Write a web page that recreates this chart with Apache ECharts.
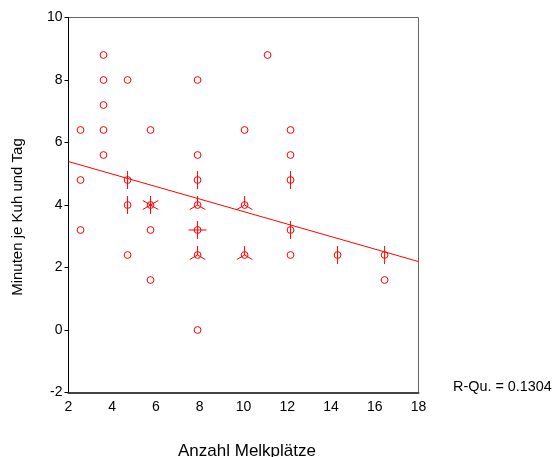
<!DOCTYPE html>
<html>
<head>
<meta charset="utf-8">
<script src="https://cdn.jsdelivr.net/npm/echarts@6/dist/echarts.min.js"></script>
<style>
html,body{margin:0;padding:0;background:#fff;}
#c{width:556px;height:457px;}
</style>
</head>
<body>
<div id="c"></div>
<script>
// Data (sunflower plot: count = cases at that point)
const xVals  = [2.55,2.55,2.55, 3.6,3.6,3.6,3.6,3.6, 4.7,4.7,4.7,4.7, 5.75,5.75,5.75,5.75, 7.9,7.9,7.9,7.9,7.9,7.9,7.9, 10.05,10.05,10.05, 11.1, 12.15,12.15,12.15,12.15,12.15, 14.3, 16.45,16.45];
const yVals  = [6.4,4.8,3.2, 8.8,8.0,7.2,6.4,5.6, 8.0,4.8,4.0,2.4, 6.4,4.0,3.2,1.6, 8.0,5.6,4.8,4.0,3.2,2.4,0.0, 6.4,4.0,2.4, 8.8, 6.4,5.6,4.8,3.2,2.4, 2.4, 2.4,1.6];
const counts = [1,1,1, 1,1,1,1,1, 1,2,2,1, 1,6,1,1, 1,1,2,3,4,3,1, 1,3,3, 1, 1,1,2,2,1, 2, 2,1];
const fitX = [2, 18];
const fitY = [5.39, 2.19];
const xTicks = {min: 2, max: 18, interval: 2};
const yTicks = {min: -2, max: 10, interval: 2};
const rsqText = 'R-Qu. = 0.1304';
const xTitle = 'Anzahl Melkplätze';
const yTitle = 'Minuten je Kuh und Tag';

const RED = '#ff0000';
const pts = xVals.map((x, i) => [x, yVals[i], counts[i]]);
const fitData = fitX.map((x, i) => [x, fitY[i]]);

const chart = echarts.init(document.getElementById('c'), null, {renderer: 'canvas'});
const FONT = 'Arial, "Liberation Sans", Helvetica, sans-serif';

chart.setOption({
  animation: false,
  backgroundColor: '#fff',
  grid: {left: 68.5, top: 17.5, right: 137.5, bottom: 64.5, show: true, borderColor: '#666', borderWidth: 1},
  xAxis: {
    type: 'value', min: xTicks.min, max: xTicks.max, interval: xTicks.interval,
    splitLine: {show: false},
    axisLine: {show: true, onZero: false, lineStyle: {color: '#444', width: 2}},
    axisTick: {show: false},
    axisLabel: {color: '#000', fontSize: 14, fontFamily: FONT, margin: 8}
  },
  yAxis: {
    type: 'value', min: yTicks.min, max: yTicks.max, interval: yTicks.interval,
    splitLine: {show: false},
    axisLine: {show: true, onZero: false, lineStyle: {color: '#000', width: 1}},
    axisTick: {show: true, inside: false, length: 4, lineStyle: {color: '#000'}},
    axisLabel: {color: '#000', fontSize: 14, fontFamily: FONT, margin: 6}
  },
  series: [
    {
      type: 'line',
      data: fitData,
      symbol: 'none',
      lineStyle: {color: RED, width: 1},
      silent: true,
      z: 3
    },
    {
      type: 'custom',
      data: pts,
      z: 4,
      renderItem: function (params, api) {
        const c = api.coord([api.value(0), api.value(1)]);
        const n = api.value(2);
        const children = [{
          type: 'circle',
          shape: {cx: c[0], cy: c[1], r: 3.4},
          style: {fill: 'none', stroke: RED, lineWidth: 1}
        }];
        if (n > 1) {
          const L = 9;
          for (let k = 0; k < n; k++) {
            const a = Math.PI / 2 + k * 2 * Math.PI / n;
            children.push({
              type: 'line',
              shape: {x1: c[0], y1: c[1], x2: c[0] + L * Math.cos(a), y2: c[1] - L * Math.sin(a)},
              style: {stroke: RED, lineWidth: 1}
            });
          }
        }
        return {type: 'group', children: children};
      }
    }
  ],
  graphic: [
    {type: 'text', x: 18, y: 217, rotation: Math.PI / 2,
     style: {text: yTitle, fill: '#000', font: '15px ' + FONT, textAlign: 'center', textVerticalAlign: 'middle'}},
    {type: 'text', x: 247, y: 451,
     style: {text: xTitle, fill: '#000', font: '17px ' + FONT, textAlign: 'center', textVerticalAlign: 'middle'}},
    {type: 'text', x: 453, y: 387,
     style: {text: rsqText, fill: '#000', font: '14.4px ' + FONT, textAlign: 'left', textVerticalAlign: 'middle'}}
  ]
});
</script>
</body>
</html>
